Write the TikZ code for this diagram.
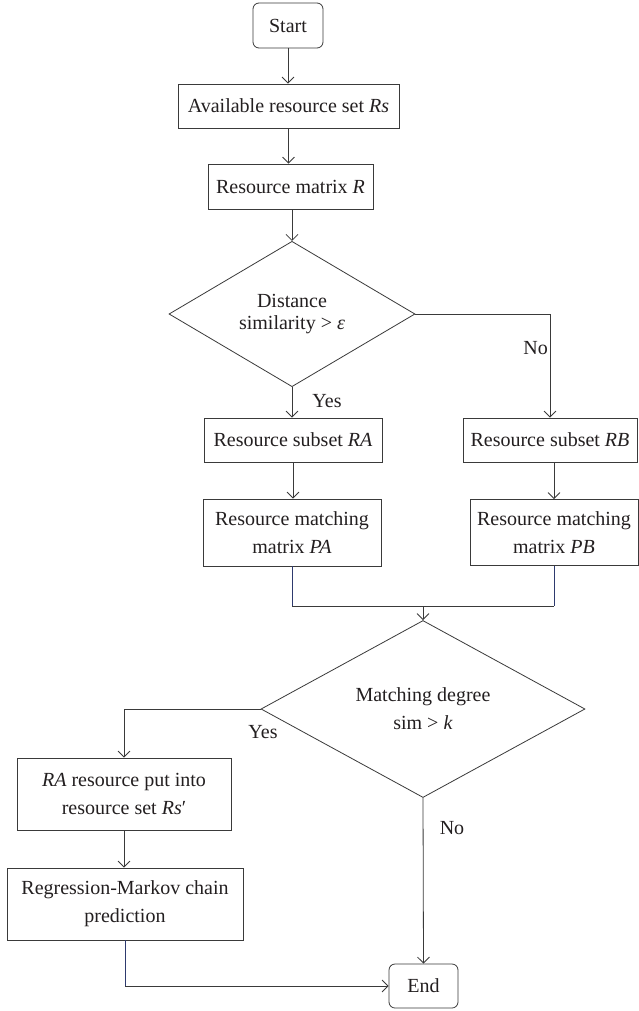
\documentclass[tikz,border=0pt]{standalone}
\usepackage{fontspec}
\setmainfont{Liberation Serif}
\usetikzlibrary{shapes.geometric,arrows.meta}
\definecolor{txt}{HTML}{231F20}
\definecolor{ln}{HTML}{3A3A3A}
\definecolor{navy}{HTML}{2E3A6E}
\begin{document}
\begin{tikzpicture}[x=1pt,y=-1pt,
  font=\fontsize{20}{28}\selectfont, text=txt,
  box/.style={draw=ln, line width=0.8pt, rectangle, align=center, inner sep=0pt},
  term/.style={box, rounded corners=6pt},
  dec/.style={draw=ln, line width=0.8pt, diamond, align=center, inner sep=0pt},
  conn/.style={draw=ln, line width=0.8pt},
  arr/.style={conn, -{Straight Barb[length=6pt,width=12pt]}},
  feed/.style={draw=navy, line width=0.8pt},
  lbl/.style={inner sep=0pt}]
\useasboundingbox (0,0) rectangle (639,1011);
\fill[white] (0,0) rectangle (639,1011);
% nodes
\node[term, minimum width=70pt, minimum height=45pt] (start) at (288,25.5) {Start};
\node[box, minimum width=221pt, minimum height=44pt] (avail) at (288.5,106) {Available resource set \textit{Rs}};
\node[box, minimum width=165pt, minimum height=45pt] (matR) at (290.5,186.5) {Resource matrix \textit{R}};
\node[dec, minimum width=246pt, minimum height=132pt] (d1) at (292,314) {Distance\\[-6pt]similarity {>} \textit{ε}};
\node[box, minimum width=178pt, minimum height=44pt] (RA) at (293,440) {Resource subset \textit{RA}};
\node[box, minimum width=174pt, minimum height=44pt] (RB) at (550,440) {Resource subset \textit{RB}};
\node[box, minimum width=178pt, minimum height=67pt] (PA) at (292,532.5) {Resource matching\\matrix \textit{PA}};
\node[box, minimum width=168pt, minimum height=66pt] (PB) at (554,532.5) {Resource matching\\matrix \textit{PB}};
\coordinate (m) at (423,606);
\node[dec, minimum width=324pt, minimum height=134pt] (d2) at (423,709) {Matching degree\\sim {>} \textit{k}};
\node[box, minimum width=214pt, minimum height=72pt] (put) at (124,794) {\textit{RA} resource put into\\resource set \textit{Rs}′};
\node[box, minimum width=236pt, minimum height=72pt] (reg) at (125,904) {Regression-Markov chain\\prediction};
\node[term, minimum width=69pt, minimum height=44pt] (endn) at (423.5,986) {End};
% labels
\node[lbl, anchor=east] (no1) at (548,348) {No};
\node[lbl] (yes1) at (327,401) {Yes};
\node[lbl] (yes2) at (263,732) {Yes};
\node[lbl] (no2) at (452,828) {No};
% connectors
\draw[arr] (start) -- (start |- avail.north);
\draw[arr] (avail) -- (avail |- matR.north);
\draw[arr] (d1.north |- matR.south) -- (d1.north);
\draw[arr] (d1.south) -- (d1.south |- RA.north);
\draw[arr] (d1.east) -| (RB.north);
\draw[arr] (RA) -- (RA |- PA.north);
\draw[arr] (PB.north |- RB.south) -- (PB.north);
\draw[feed] (PA.south) -- (PA.south |- m);
\draw[feed] (PB.south) -- (PB.south |- m);
\draw[conn] (PA.south |- m) -- (PB.south |- m);
\draw[arr] (m) -- (d2.north);
\draw[arr] (d2.west) -| (put.north);
\draw[arr] (put) -- (put |- reg.north);
\draw[feed] (reg.south) -- (reg.south |- endn.west);
\draw[arr] (reg.south |- endn.west) -- (endn.west);
\draw[arr] (d2.south) -- (endn.north);
\end{tikzpicture}
\end{document}
